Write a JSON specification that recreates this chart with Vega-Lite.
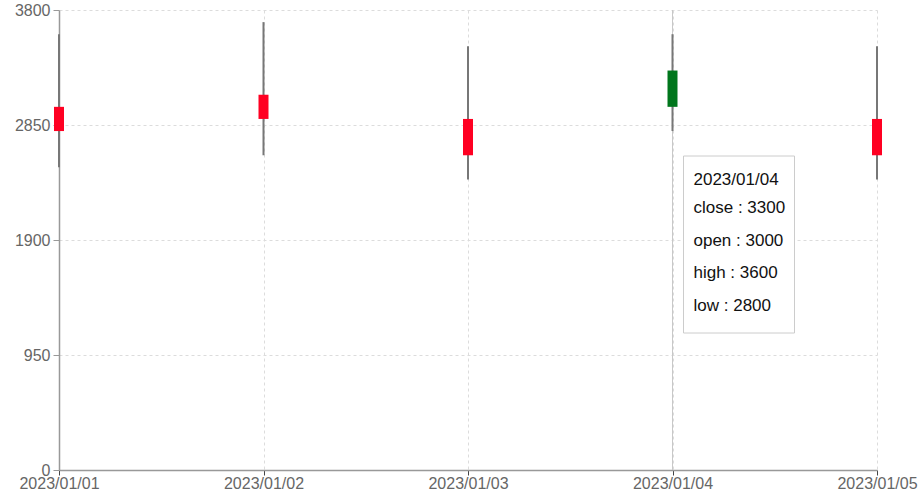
{
  "$schema": "https://vega.github.io/schema/vega-lite/v6.json",
  "width": 818,
  "height": 460,
  "autosize": {"type": "none"},
  "padding": {"left": 59, "top": 10, "right": 42, "bottom": 32},
  "config": {
    "view": {"stroke": null},
    "font": "Liberation Sans",
    "axis": {
      "labelFont": "Liberation Sans",
      "labelFontSize": 16,
      "labelColor": "#666",
      "domainColor": "#999",
      "domainWidth": 1.5,
      "tickColor": "#999",
      "tickSize": 6,
      "gridColor": "#dcdcdc",
      "gridDash": [3, 3],
      "title": null
    }
  },
  "datasets": {
    "k": [
      {"date": "2023/01/01", "open": 3000, "close": 2800, "high": 3600, "low": 2500},
      {"date": "2023/01/02", "open": 3100, "close": 2900, "high": 3700, "low": 2600},
      {"date": "2023/01/03", "open": 2900, "close": 2600, "high": 3500, "low": 2400},
      {"date": "2023/01/04", "open": 3000, "close": 3300, "high": 3600, "low": 2800},
      {"date": "2023/01/05", "open": 2900, "close": 2600, "high": 3500, "low": 2400}
    ],
    "tip": [
      {"date": "2023/01/04", "title": "2023/01/04", "lines": ["close : 3300", "open : 3000", "high : 3600", "low : 2800"]}
    ]
  },
  "data": {"name": "k"},
  "encoding": {
    "x": {
      "field": "date",
      "type": "ordinal",
      "scale": {"type": "point", "padding": 0},
      "axis": {"labelAngle": 0, "grid": true, "tickColor": "#444", "tickSize": 5, "labelPadding": 0}
    }
  },
  "layer": [
    {
      "data": {"name": "tip"},
      "mark": {"type": "rule", "color": "#c8c8c8", "strokeWidth": 1},
      "encoding": {"y": {"datum": 0, "type": "quantitative"}, "y2": {"datum": 3800}}
    },
    {
      "mark": {"type": "rule", "color": "#777", "strokeWidth": 2},
      "encoding": {
        "y": {
          "field": "low",
          "type": "quantitative",
          "scale": {"domain": [0, 3800], "nice": false},
          "axis": {"values": [0, 950, 1900, 2850, 3800], "format": "d", "grid": true, "labelPadding": 3}
        },
        "y2": {"field": "high"}
      }
    },
    {
      "mark": {"type": "bar", "size": 10},
      "encoding": {
        "y": {"field": "open", "type": "quantitative"},
        "y2": {"field": "close"},
        "color": {
          "condition": {"test": "datum.close > datum.open", "value": "#00761c"},
          "value": "#ff0022"
        }
      }
    },
    {
      "data": {"name": "tip"},
      "mark": {
        "type": "point",
        "filled": false,
        "fill": "white",
        "fillOpacity": 1,
        "stroke": "#cccccc",
        "strokeWidth": 1,
        "opacity": 1,
        "shape": "M0.11,-0.84 H1.22 V0.93 H0.11 Z",
        "size": 40000
      },
      "encoding": {"y": {"datum": 1900, "type": "quantitative"}}
    },
    {
      "data": {"name": "tip"},
      "mark": {
        "type": "text",
        "align": "left",
        "baseline": "middle",
        "dx": 21,
        "dy": -60,
        "fontSize": 17,
        "color": "#111"
      },
      "encoding": {
        "y": {"datum": 1900, "type": "quantitative"},
        "text": {"field": "title"}
      }
    },
    {
      "data": {"name": "tip"},
      "mark": {
        "type": "text",
        "align": "left",
        "baseline": "middle",
        "dx": 21,
        "dy": -32,
        "fontSize": 17,
        "lineHeight": 32.7,
        "color": "#111"
      },
      "encoding": {
        "y": {"datum": 1900, "type": "quantitative"},
        "text": {"field": "lines"}
      }
    }
  ]
}
